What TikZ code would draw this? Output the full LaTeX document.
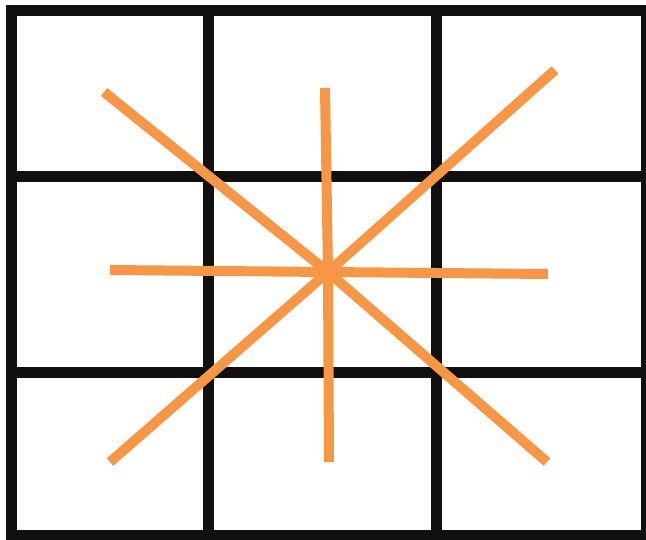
\documentclass[tikz,border=0pt]{standalone}
\usepackage{tikz}
\definecolor{gridblack}{RGB}{16,16,16}
\definecolor{rayorange}{RGB}{247,150,68}

\begin{document}
\begin{tikzpicture}[
  x=1pt, y=-1pt,
  gridline/.style={draw=gridblack, line width=11pt},
  ray/.style={draw=rayorange, line width=10pt}
]
\useasboundingbox (0,0) rectangle (646,539);
\clip (0,0) rectangle (646,539);

% ---------- Cuadricula ----------
\draw[gridline] (11,10) rectangle (646,535);
\draw[gridline] (208,10) -- (208,535);
\draw[gridline] (436,10) -- (436,535);
\draw[gridline] (11,176) -- (646,176);
\draw[gridline] (11,372) -- (646,372);

% ---------- Rayos ----------
\coordinate (c) at (328,272);
\coordinate (ul) at (104,92);
\coordinate (up) at (325,88);
\coordinate (ur) at (555,70);
\coordinate (lf) at (110,270);
\coordinate (rt) at (548,274);
\coordinate (ll) at (110,462);
\coordinate (dn) at (329,462);
\coordinate (lr) at (547,462);
\foreach \p in {ul,up,ur,lf,rt,ll,dn,lr}
  \draw[ray] (c) -- (\p);

\end{tikzpicture}
\end{document}
